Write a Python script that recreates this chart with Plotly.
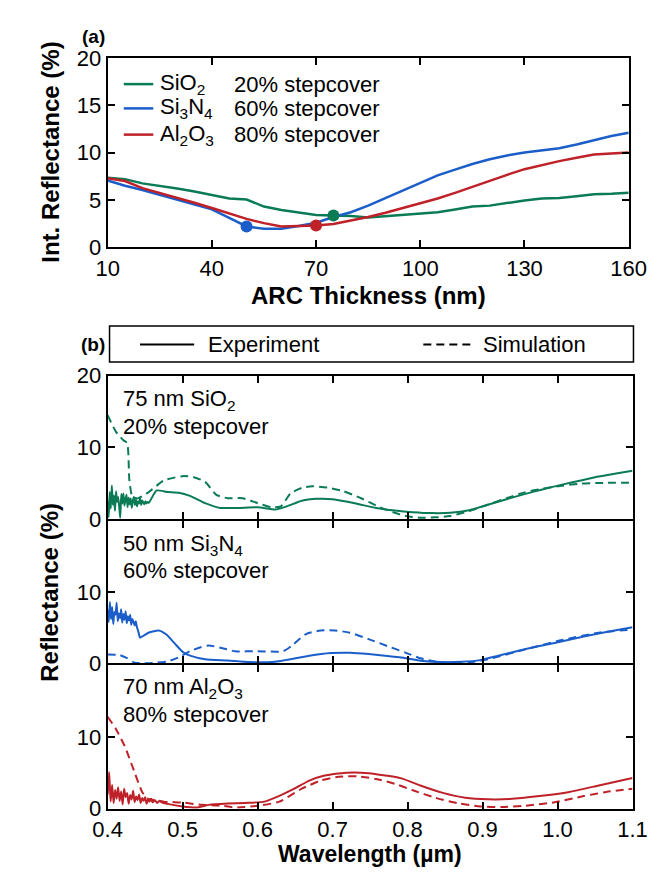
import plotly.graph_objects as go

# ---------------- Panel (a) data ----------------
thickness_nm = [10, 15, 20, 25, 30, 35, 40, 45, 50, 55, 60, 65, 70, 75, 80, 85, 90, 95, 100,
                105, 110, 115, 120, 125, 130, 135, 140, 145, 150, 155, 160]
int_refl_sio2 = [7.35, 7.2, 6.75, 6.5, 6.2, 5.9, 5.55, 5.15, 5.05, 4.3, 3.95, 3.65, 3.4, 3.35, 3.3, 3.15,
                 3.3, 3.45, 3.55, 3.7, 4.0, 4.3, 4.4, 4.7, 4.95, 5.15, 5.2, 5.4, 5.6, 5.65, 5.75]
int_refl_si3n4 = [7.05, 6.5, 6.05, 5.55, 5.05, 4.55, 4.0, 3.1, 2.2, 1.95, 1.95, 2.25, 2.6, 3.2, 3.7, 4.4,
                  5.2, 6.05, 6.85, 7.6, 8.2, 8.8, 9.3, 9.7, 10.0, 10.2, 10.45, 10.85, 11.3, 11.75, 12.1]
int_refl_al2o3 = [7.3, 7.0, 6.25, 5.75, 5.25, 4.7, 4.15, 3.55, 3.0, 2.55, 2.2, 2.25, 2.3, 2.45, 2.8, 3.2,
                  3.65, 4.15, 4.65, 5.15, 5.75, 6.4, 7.0, 7.65, 8.25, 8.7, 9.1, 9.45, 9.8, 9.9, 10.0]
opt_thickness = [75, 50, 70]
opt_refl = [3.35, 2.2, 2.3]

# ---------------- Panel (b) data ----------------
# SiO2 experiment
wl_sio2_exp = [0.400, 0.4014, 0.4028, 0.4042, 0.4056, 0.407, 0.4084, 0.4098, 0.4112, 0.4126, 0.414,
               0.4154, 0.4168, 0.4182, 0.4196, 0.421, 0.4224, 0.4238, 0.4252, 0.4266, 0.428, 0.4294,
               0.4308, 0.4322, 0.4336, 0.435, 0.4364, 0.4378, 0.4392, 0.4406, 0.442, 0.4434, 0.4448,
               0.4462, 0.4476, 0.449, 0.4504, 0.4518, 0.4532, 0.455,
               0.465, 0.48, 0.495, 0.51, 0.53, 0.55, 0.574, 0.6, 0.624, 0.639, 0.659, 0.679, 0.7, 0.718,
               0.738, 0.758, 0.783, 0.807, 0.832, 0.857, 0.882, 0.907, 0.932, 0.956, 0.981, 1.006,
               1.031, 1.055, 1.08, 1.1]
r_sio2_exp = [2.5, 0.3, 3.8, 1.5, 4.7, 2.0, 3.3, 1.2, 3.9, 2.4, 3.1, 1.8, 0.2, 3.5, 2.2, 3.6, 1.9, 2.8,
              3.4, 1.7, 3.0, 2.1, 2.9, 1.6, 2.6, 3.1, 2.0, 2.7, 1.8, 2.5, 2.2, 2.9, 2.0, 2.6, 2.3, 2.1,
              2.5, 2.2, 2.4, 2.3,
              4.0, 3.8, 3.7, 3.25, 2.25, 1.58, 1.58, 1.67, 1.35, 1.8, 2.57, 2.84, 2.8, 2.48,
              2.03, 1.58, 1.22, 0.99, 0.86, 0.9, 1.26, 2.03, 2.79, 3.5, 4.19, 4.82,
              5.4, 5.95, 6.4, 6.76]
# SiO2 simulation
wl_sio2_sim = [0.4, 0.411, 0.421, 0.426, 0.429, 0.433, 0.44, 0.455, 0.475, 0.5, 0.515, 0.53, 0.545,
               0.56, 0.58, 0.6, 0.619, 0.631, 0.644, 0.659, 0.673, 0.693, 0.713, 0.738, 0.763, 0.783,
               0.798, 0.817, 0.837, 0.857, 0.882, 0.907, 0.932, 0.956, 0.981, 1.006, 1.031, 1.055, 1.1]
r_sio2_sim = [14.5, 12.2, 11.0, 10.6, 5.4, 3.15, 2.9, 3.8, 5.4, 6.0, 5.86, 5.2, 3.4,
              2.93, 2.93, 2.25, 1.67, 1.8, 3.6, 4.37, 4.6, 4.41, 3.96, 2.93, 1.67, 0.9,
              0.45, 0.23, 0.27, 0.45, 1.13, 2.03, 2.93, 3.74, 4.28, 4.68, 4.95, 5.05, 5.09]

# Si3N4 experiment
wl_si3n4_exp = [0.400, 0.4015, 0.403, 0.4045, 0.406, 0.4075, 0.409, 0.4105, 0.412, 0.4135, 0.415,
                0.4165, 0.418, 0.4195, 0.421, 0.4225, 0.424, 0.4255, 0.427, 0.4285, 0.43, 0.4315,
                0.433, 0.4345, 0.436, 0.4375, 0.439, 0.4405, 0.442, 0.443,
                0.455, 0.468, 0.478, 0.49, 0.5, 0.51, 0.53, 0.56, 0.589, 0.619, 0.644, 0.669, 0.698,
                0.723, 0.748, 0.773, 0.798, 0.817, 0.842, 0.872, 0.897, 0.921, 0.956, 0.996, 1.035,
                1.065, 1.1]
r_si3n4_exp = [7.5, 5.8, 8.6, 6.2, 7.9, 5.5, 7.2, 6.8, 8.5, 5.9, 7.0, 6.3, 7.6, 5.7, 6.9, 6.1, 7.3,
               5.6, 6.6, 6.0, 6.8, 5.4, 6.2, 5.8, 5.3, 5.9, 5.1, 4.6, 4.0, 3.6,
               4.3, 4.6, 4.05, 2.7, 1.58, 1.04, 0.54, 0.36, 0.14, 0.14, 0.54, 1.04, 1.4,
               1.44, 1.26, 0.99, 0.68, 0.32, 0.14, 0.18, 0.41, 1.04, 1.94, 2.84, 3.74,
               4.37, 5.05]
# Si3N4 simulation
wl_si3n4_sim = [0.4, 0.416, 0.426, 0.436, 0.46, 0.48, 0.495, 0.51, 0.525, 0.535, 0.55, 0.57, 0.6,
                0.634, 0.646, 0.664, 0.684, 0.703, 0.723, 0.748, 0.773, 0.798, 0.817, 0.837, 0.857,
                0.882, 0.907, 0.956, 1.006, 1.055, 1.1]
r_si3n4_sim = [1.22, 1.13, 0.68, 0.05, 0.02, 0.23, 0.81, 1.67, 2.25, 2.48, 2.16, 1.67, 1.67,
               1.67, 2.48, 4.05, 4.6, 4.6, 4.28, 3.38, 2.39, 1.44, 0.68, 0.23, 0.03,
               0.09, 0.54, 1.89, 3.24, 4.28, 4.73]

# Al2O3 experiment
wl_al2o3_exp = [0.400, 0.402, 0.404, 0.406, 0.408, 0.410, 0.412, 0.414, 0.416, 0.418, 0.420, 0.422,
                0.424, 0.426, 0.428, 0.430, 0.432, 0.434, 0.436, 0.438, 0.440, 0.442, 0.444, 0.446,
                0.448, 0.450, 0.452, 0.454, 0.456, 0.458, 0.460, 0.463, 0.466, 0.469, 0.472,
                0.48, 0.5, 0.52, 0.535, 0.56, 0.584, 0.609, 0.629, 0.649, 0.669, 0.688, 0.708,
                0.728, 0.748, 0.773, 0.792, 0.817, 0.847, 0.877, 0.907, 0.936, 0.976, 1.016,
                1.055, 1.1]
r_al2o3_exp = [2.0, 5.1, 1.0, 3.3, 0.8, 2.6, 1.4, 3.0, 1.1, 2.4, 0.6, 2.8, 1.6, 2.2, 0.7, 1.9, 1.3,
               2.5, 0.9, 1.7, 1.2, 2.0, 0.8, 1.5, 1.1, 1.6, 0.7, 1.3, 1.0, 1.4, 0.9, 1.2, 0.8,
               1.1, 0.9,
               0.68, 0.32, 0.18, 0.54, 0.72, 0.81, 0.99, 1.8, 2.79, 3.92, 4.59, 4.91,
               5.05, 4.95, 4.59, 4.23, 3.24, 2.21, 1.53, 1.31, 1.35, 1.76, 2.34,
               3.24, 4.28]
# Al2O3 simulation
wl_al2o3_sim = [0.4, 0.411, 0.423, 0.436, 0.446, 0.453, 0.475, 0.5, 0.525, 0.55, 0.57, 0.6, 0.629,
                0.659, 0.684, 0.708, 0.733, 0.758, 0.783, 0.807, 0.837, 0.867, 0.897, 0.926,
                0.956, 0.996, 1.035, 1.065, 1.1]
r_al2o3_sim = [12.8, 11.1, 8.65, 5.05, 2.34, 1.44, 0.99, 0.86, 0.54, 0.45, 0.18, 0.41, 0.99,
               2.79, 3.92, 4.46, 4.5, 4.14, 3.47, 2.57, 1.53, 0.77, 0.32, 0.23,
               0.41, 0.9, 1.76, 2.34, 2.79]

x_ticks_a = [10, 40, 70, 100, 130, 160]
y_ticks_a = [0, 5, 10, 15, 20]
x_ticks_b = [0.4, 0.5, 0.6, 0.7, 0.8, 0.9, 1.0, 1.1]

GREEN = "#0a7b55"
BLUE = "#1b5ec9"
RED = "#be2128"
FONT = "Liberation Sans, Arial, sans-serif"
W, H = 672, 873


def px(x):
    return x / W


def py(y):
    return 1 - y / H


fig = go.Figure()

# Panel (a)
for ys, c in [(int_refl_sio2, GREEN), (int_refl_si3n4, BLUE), (int_refl_al2o3, RED)]:
    fig.add_trace(go.Scatter(x=thickness_nm, y=ys, mode="lines", line=dict(color=c, width=2.5),
                             xaxis="x", yaxis="y", showlegend=False))
fig.add_trace(go.Scatter(x=opt_thickness, y=opt_refl, mode="markers",
                         marker=dict(color=[GREEN, BLUE, RED], size=12),
                         xaxis="x", yaxis="y", showlegend=False))

# Panel (b)
panels = [
    (wl_sio2_exp, r_sio2_exp, wl_sio2_sim, r_sio2_sim, GREEN, "x2", "y2"),
    (wl_si3n4_exp, r_si3n4_exp, wl_si3n4_sim, r_si3n4_sim, BLUE, "x3", "y3"),
    (wl_al2o3_exp, r_al2o3_exp, wl_al2o3_sim, r_al2o3_sim, RED, "x4", "y4"),
]
for we, re_, ws, rs, c, xa, ya in panels:
    fig.add_trace(go.Scatter(x=ws, y=rs, mode="lines", line=dict(color=c, width=2, dash="8px,5px",
                             shape="spline", smoothing=0.6), xaxis=xa, yaxis=ya, showlegend=False))
    fig.add_trace(go.Scatter(x=we, y=re_, mode="lines", line=dict(color=c, width=2,
                             shape="spline", smoothing=0.5), xaxis=xa, yaxis=ya, showlegend=False))

axis_common = dict(showline=True, linecolor="black", linewidth=2, mirror="allticks", ticks="inside",
                   ticklen=7, tickwidth=2, tickcolor="black", showgrid=False, zeroline=False,
                   tickfont=dict(family=FONT, size=22, color="black"))

# domains (adjacent panels overlap by the line width so shared frame lines coincide)
a_x = [px(89), px(637)]
a_y = [py(234), py(39)]
b_x = [px(89), px(641)]
b1 = [py(514), py(366)]
b2 = [py(662), py(516)]
b3 = [py(812), py(664)]

fig.update_layout(
    width=W, height=H, margin=dict(l=0, r=0, t=0, b=0),
    paper_bgcolor="white", plot_bgcolor="white",
    font=dict(family=FONT, color="black"),
    xaxis=dict(domain=a_x, range=[10, 160], tickvals=x_ticks_a, anchor="y", **axis_common),
    yaxis=dict(domain=a_y, range=[0, 20], tickvals=y_ticks_a, anchor="x", **axis_common),
    xaxis2=dict(domain=b_x, range=[0.4, 1.1], tickvals=x_ticks_b, anchor="y2", showticklabels=False, **axis_common),
    yaxis2=dict(domain=b1, range=[0, 20], tickvals=[0, 10, 20], anchor="x2", **axis_common),
    xaxis3=dict(domain=b_x, range=[0.4, 1.1], tickvals=x_ticks_b, anchor="y3", showticklabels=False, **axis_common),
    yaxis3=dict(domain=b2, range=[0, 20], tickvals=[0, 10], anchor="x3", **axis_common),
    xaxis4=dict(domain=b_x, range=[0.4, 1.1], tickvals=x_ticks_b, anchor="y4", tickformat=".1f", **axis_common),
    yaxis4=dict(domain=b3, range=[0, 20], tickvals=[0, 10], anchor="x4", **axis_common),
)

ann = []
shapes = []


def text(x, y, s, size=22, bold=False, angle=0, xanchor="left"):
    if bold:
        s = "<b>" + s + "</b>"
    ann.append(dict(x=px(x), y=py(y), xref="paper", yref="paper", text=s, showarrow=False,
                    xanchor=xanchor, yanchor="middle", textangle=angle, borderpad=0,
                    font=dict(family=FONT, size=size, color="black")))


def seg(x0, x1, y, color, dash="solid", width=2.5):
    shapes.append(dict(type="line", xref="paper", yref="paper", x0=px(x0), x1=px(x1), y0=py(y), y1=py(y),
                       line=dict(color=color, width=width, dash=dash)))


# panel labels
text(74, 17, "(a)", size=19, bold=True, xanchor="center")
text(74, 334, "(b)", size=19, bold=True, xanchor="center")

# axis titles
text(28, 136, "Int. Reflectance (%)", size=24, bold=True, angle=-90, xanchor="center")
text(363, 284, "ARC Thickness (nm)", size=24, bold=True, xanchor="center")
text(28, 589, "Reflectance (%)", size=24, bold=True, angle=-90, xanchor="center")
text(365, 859, "Wavelength (µm)", size=23, bold=True, xanchor="center")

# panel (a) legend
leg_rows = [(66, GREEN, "SiO<sub>2</sub>", "20% stepcover"),
            (91, BLUE, "Si<sub>3</sub>N<sub>4</sub>", "60% stepcover"),
            (118, RED, "Al<sub>2</sub>O<sub>3</sub>", "80% stepcover")]
for y, c, name, sc in leg_rows:
    seg(106, 137, y, c)
    text(143, y, name)
    text(221, y, sc)

# panel (b) legend box
shapes.append(dict(type="rect", xref="paper", yref="paper", x0=px(91), x1=px(642), y0=py(352), y1=py(315),
                   line=dict(color="black", width=1.5)))
seg(123, 180, 334, "black", width=2)
text(193, 334, "Experiment")
seg(421, 472, 334, "black", dash="8px,5px", width=2)
text(483, 334, "Simulation")

# subplot labels
for y0, l1, l2 in [(366, "75 nm SiO<sub>2</sub>", "20% stepcover"),
                   (515, "50 nm Si<sub>3</sub>N<sub>4</sub>", "60% stepcover"),
                   (663, "70 nm Al<sub>2</sub>O<sub>3</sub>", "80% stepcover")]:
    text(104, y0 + 25, l1)
    text(104, y0 + 52, l2)

fig.update_layout(annotations=ann, shapes=shapes)
fig.write_html("out.html")
